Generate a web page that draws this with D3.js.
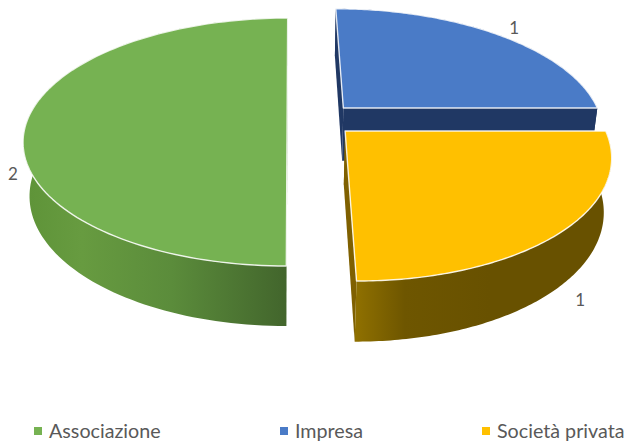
<!DOCTYPE html>
<html>
<head>
<meta charset="utf-8">
<script src="https://cdn.jsdelivr.net/npm/d3@7"></script>
<style>
  html, body { margin: 0; padding: 0; background: #fff; }
  svg { display: block; }
  text { font-family: Lato, "Open Sans", sans-serif; fill: #595959; }
</style>
</head>
<body>
<script>
var categories = ["Associazione", "Impresa", "Società privata"];
var values = [2, 1, 1];
var topColors = ["#76b252", "#4a7bc7", "#ffc000"];
var sideDark = ["#42652c", "#203864", "#7f6000"];
var sideStops = [
  ["#5f9439", "#679b40", "#5b8c3b", "#42652c"],
  ["#203864", "#203864", "#203864", "#203864"],
  ["#8f7000", "#6e5600", "#685100", "#685100"]
];
// how far each slice is pulled out of the pie, in radii
var explodeX = [-0.015, 0.205, 0.205];
var explodeZ = [0, -0.1075, 0.0844];
var radiusX = [1, 0.995, 0.988];
var labelRadius = [1.08, 1.11, 1.09];
var legendX = [34, 280, 482];

var width = 630, height = 441;
var perspective = 0.172, sink = 0.024, depth = 0.454;

var x = d3.scaleLinear().domain([-1, 1]).range([31, 551]);
var y = d3.scaleLinear().domain([-1, 1]).range([0.4, 241]);

// disc coordinates to screen: u to the right, v towards the viewer, h downwards (0 top face, 1 bottom)
var project = function(u, v, h) {
  var w = 1 - perspective * v + sink * h;
  return [x(u / w), y((v + depth * h) / w)];
};

var svg = d3.select("body").append("svg")
  .attr("width", width)
  .attr("height", height);

var defs = svg.append("defs");

var pie = d3.pie().sort(null).startAngle(Math.PI).endAngle(3 * Math.PI);
var slices = pie(values);
var line = d3.line();

var rim = function(d, i, h) {
  var n = 120, pts = [];
  for (var k = 0; k <= n; k++) {
    var a = d.startAngle + (d.endAngle - d.startAngle) * k / n;
    pts.push(project(explodeX[i] + radiusX[i] * Math.sin(a), explodeZ[i] - Math.cos(a), h));
  }
  return pts;
};

slices.forEach(function(d, i) {
  var g = defs.append("linearGradient")
    .attr("id", "side" + i)
    .attr("gradientUnits", "userSpaceOnUse")
    .attr("x1", i == 0 ? 30 : 356).attr("x2", i == 0 ? 287 : 600)
    .attr("y1", 0).attr("y2", 0);
  sideStops[i].forEach(function(c, k) {
    g.append("stop").attr("offset", [0, 0.2, 0.55, 1][k]).attr("stop-color", c);
  });
});

// painter's order: the back slice first, the big green one last
[1, 2, 0].forEach(function(i) {
  var d = slices[i];
  var g = svg.append("g").attr("class", "slice");
  var top = rim(d, i, 0), bottom = rim(d, i, 1);
  var apexTop = project(explodeX[i], explodeZ[i], 0),
      apexBottom = project(explodeX[i], explodeZ[i], 1);

  // cut faces
  [0, top.length - 1].forEach(function(k) {
    g.append("path")
      .attr("d", line([apexTop, top[k], bottom[k], apexBottom]) + "Z")
      .attr("fill", sideDark[i]);
  });

  // outer wall
  g.append("path")
    .attr("d", line(top.concat(bottom.slice().reverse())) + "Z")
    .attr("fill", "url(#side" + i + ")");

  // top face
  g.append("path")
    .attr("d", line([apexTop].concat(top)) + "Z")
    .attr("fill", topColors[i])
    .attr("stroke", "#fff")
    .attr("stroke-opacity", 0.85)
    .attr("stroke-width", 1.4)
    .attr("stroke-linejoin", "round");
});

// data labels sit just outside the rim, at the bottom edge on the front of the pie
svg.selectAll("text.value")
  .data(slices)
  .enter()
  .append("text")
  .attr("class", "value")
  .attr("text-anchor", "middle")
  .attr("dy", "0.36em")
  .style("font-size", "17px")
  .attr("transform", function(d, i) {
    var a = (d.startAngle + d.endAngle) / 2;
    var v = -Math.cos(a);
    var r = labelRadius[i];
    var p = project(explodeX[i] + r * Math.sin(a), explodeZ[i] + r * v, v < -0.1 ? 0 : 1);
    return "translate(" + p[0] + "," + p[1] + ")";
  })
  .text(function(d) { return d.value; });

var legend = svg.selectAll("g.legend")
  .data(categories)
  .enter()
  .append("g")
  .attr("class", "legend")
  .attr("transform", function(d, i) { return "translate(" + legendX[i] + ",431)"; });

legend.append("rect")
  .attr("y", -4)
  .attr("width", 8)
  .attr("height", 8)
  .attr("fill", function(d, i) { return topColors[i]; });

legend.append("text")
  .attr("x", 15)
  .attr("dy", "0.36em")
  .style("font-size", "19.7px")
  .text(function(d) { return d; });
</script>
</body>
</html>
